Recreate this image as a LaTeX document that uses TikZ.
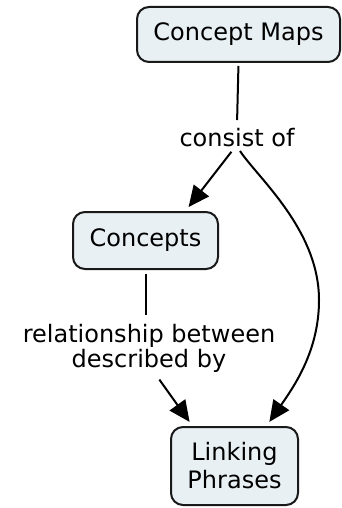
\documentclass[tikz,border=0pt]{standalone}
\usepackage{fontspec}
\setmainfont{DejaVu Sans}
\usetikzlibrary{arrows.meta}
\definecolor{boxfill}{HTML}{E8F0F3}
\tikzset{
	concept/.style={draw=black!90, fill=boxfill, line width=2pt, rounded corners=12pt, align=center, font=\fontsize{24}{28}\selectfont},
	phrase/.style={inner sep=4pt, align=center, font=\fontsize{24}{25}\selectfont},
	link/.style={line width=2pt},
	arrow/.style={line width=2pt, -{Triangle[length=21pt,width=19pt]}}
}
\begin{document}
\begin{tikzpicture}[x=1pt,y=-1pt]
			\useasboundingbox (0,0) rectangle (341,508);
			\node[concept, minimum width=203pt, minimum height=55pt] (cmap) at (238.5,34.5) {Concept Maps};
			\node[phrase] (consist) at (237,137.5) {consist of};
			\node[concept, minimum width=145pt, minimum height=57pt] (conc) at (145.5,240.5) {Concepts};
			\node[phrase] (rel) at (149,348) {relationship between\\described by};
			\node[concept, minimum width=127pt, minimum height=78pt] (lp) at (234.5,466) {Linking\\Phrases};
			\draw[link, shorten <=3pt, shorten >=4pt] (cmap.south) -- (consist.north);
			\draw[arrow, shorten <=1pt, shorten >=5pt] ([xshift=-5pt]consist.south) -- ([xshift=40pt]conc.north);
			\draw[arrow, shorten >=5pt] ([xshift=3pt]consist.south) .. controls (258,178) and (319,230) .. (319,300) .. controls (319,350) and (295,385) .. ([xshift=32pt]lp.north);
			\draw[link, shorten <=4pt, shorten >=5pt] (conc.south) -- (conc.south |- rel.north);
			\draw[arrow, shorten <=4pt, shorten >=5pt] ([xshift=8pt]rel.south) -- ([xshift=-42pt]lp.north);
		\end{tikzpicture}
\end{document}
